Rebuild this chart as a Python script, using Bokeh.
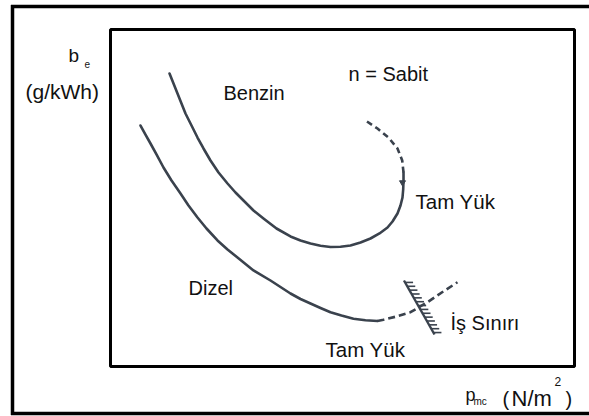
from bokeh.plotting import figure
from bokeh.models import Range1d, Label
from bokeh.embed import file_html
from bokeh.resources import INLINE

# ---- schematic data (chart units: p_mc 0..10 across box, b_e 0..10 up the box) ----
benzin_x = [1.272, 1.358, 1.444, 1.530, 1.616, 1.746, 1.875, 2.004, 2.155, 2.328, 2.522, 2.694,
            2.866, 3.082, 3.297, 3.578, 3.879, 4.095, 4.310, 4.526, 4.741, 4.957, 5.172, 5.388,
            5.603, 5.797, 5.970, 6.078, 6.185, 6.250, 6.293, 6.308, 6.315, 6.315]
benzin_y = [8.694, 8.398, 8.101, 7.804, 7.507, 7.151, 6.795, 6.469, 6.113, 5.757, 5.430, 5.163,
            4.926, 4.629, 4.392, 4.095, 3.858, 3.739, 3.650, 3.582, 3.546, 3.552, 3.591, 3.680,
            3.798, 3.947, 4.125, 4.303, 4.540, 4.777, 5.015, 5.252, 5.519, 5.757]
benzin_ext_x = [6.315, 6.287, 6.185, 5.991, 5.754, 5.496]
benzin_ext_y = [5.757, 6.113, 6.469, 6.795, 7.062, 7.300]

dizel_x = [0.647, 0.754, 0.862, 0.991, 1.142, 1.315, 1.509, 1.681, 1.875, 2.069, 2.306, 2.522,
           2.737, 3.082, 3.448, 3.879, 4.095, 4.310, 4.526, 4.741, 4.978, 5.237, 5.496, 5.754]
dizel_y = [7.151, 6.884, 6.617, 6.291, 5.905, 5.519, 5.134, 4.777, 4.421, 4.095, 3.739, 3.472,
           3.234, 2.849, 2.552, 2.166, 2.003, 1.869, 1.736, 1.611, 1.513, 1.415, 1.374, 1.350]
dizel_ext_x = [5.754, 5.884, 6.164, 6.466, 6.832, 7.155, 7.478]
dizel_ext_y = [1.350, 1.386, 1.484, 1.611, 1.908, 2.211, 2.501]

limit_x = [6.325, 6.983]
limit_y = [2.552, 0.950]
limit_ticks = 14

marker_x = [6.293]
marker_y = [5.460]

# ---- layout (page pixels) ----
OFF, W, H = 0, 589, 416
BOX_L, BOX_R, BOX_T, BOX_B = 110, 574, 29, 366
ux = (BOX_R - BOX_L) / 10.0
uy = (BOX_B - BOX_T) / 10.0

CURVE = "#3a424d"
FONT = "Liberation Sans"

p = figure(width=W, height=H, output_backend="svg", toolbar_location=None,
           x_range=Range1d(OFF, OFF + W), y_range=Range1d(OFF + H, OFF),
           x_axis_location=None, y_axis_location=None,
           min_border=0, min_border_left=0, min_border_right=0,
           min_border_top=0, min_border_bottom=0)
p.outline_line_color = None
p.grid.visible = False
p.background_fill_color = "white"
p.border_fill_color = "white"

p.extra_x_ranges = {"c": Range1d((OFF - BOX_L) / ux, (OFF + W - BOX_L) / ux)}
p.extra_y_ranges = {"c": Range1d((BOX_B - (OFF + H)) / uy, (BOX_B - OFF) / uy)}
C = dict(x_range_name="c", y_range_name="c")

# outer frame (decoration, page coords)
p.line([12, 12], [4.5, 414.5], line_color="black", line_width=3.5)
p.line([10.5, 600], [6, 6], line_color="black", line_width=3.5)
p.line([10.5, 600], [413, 413], line_color="black", line_width=3.5)

# inner box
p.quad(left=[0], right=[10], bottom=[0], top=[10], fill_color=None,
       line_color="black", line_width=3, **C)

# curves
p.line(benzin_x, benzin_y, line_color=CURVE, line_width=2.6, line_join="round", line_cap="round", **C)
p.line(benzin_ext_x, benzin_ext_y, line_color=CURVE, line_width=2.6, line_dash="6 4", **C)
p.line(dizel_x, dizel_y, line_color=CURVE, line_width=2.6, line_join="round", line_cap="round", **C)
p.line(dizel_ext_x, dizel_ext_y, line_color=CURVE, line_width=2.6, line_dash="7 4", **C)
p.scatter(marker_x, marker_y, marker="inverted_triangle", size=6, color=CURVE, **C)

# work limit line with hatching
p.line(limit_x, limit_y, line_color=CURVE, line_width=2.4, **C)
tick_len = 8.0 / ux
hx0, hx1, hy0, hy1 = [], [], [], []
for i in range(limit_ticks):
    t = (i + 0.5) / limit_ticks
    x0 = limit_x[0] + t * (limit_x[1] - limit_x[0])
    y0 = limit_y[0] + t * (limit_y[1] - limit_y[0])
    hx0.append(x0); hy0.append(y0); hx1.append(x0 + tick_len); hy1.append(y0)
p.segment(hx0, hy0, hx1, hy1, line_color=CURVE, line_width=1.6, **C)

def lab(x, y, text, size=20):
    p.add_layout(Label(x=x, y=y, text=text, text_font=FONT, text_font_size=f"{size}px",
                       text_color="#111111", text_baseline="alphabetic", text_align="left"))

lab(68, 55, "b", 19)
lab(84, 63, "e", 10)
lab(25, 91, "(g/kWh)", 21)
lab(223, 92, "Benzin")
lab(348, 73, "n = Sabit")
lab(415, 201, "Tam Yük", 20.5)
lab(188, 287, "Dizel")
lab(325, 349, "Tam Yük", 20.5)
lab(450, 322, "İş Sınırı")
lab(465, 394, "p", 18)
lab(473, 401, "mc", 10)
lab(502, 398, "(", 20)
lab(511, 398, "N/m", 22)
lab(554, 381, "2", 12)
lab(565, 398, ")", 20)

open("out.html", "w").write(file_html(p, INLINE))
